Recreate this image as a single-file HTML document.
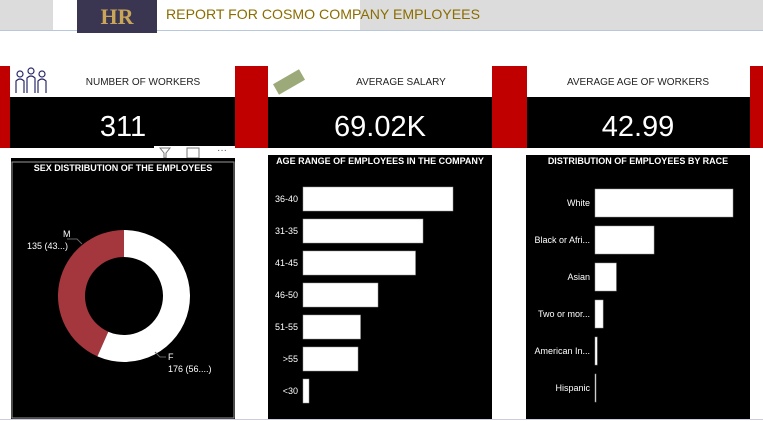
<!DOCTYPE html>
<html><head><meta charset="utf-8"><style>
body{margin:0;width:763px;height:421px;overflow:hidden;background:#fff;font-family:"Liberation Sans",sans-serif}
svg{display:block}
</style></head><body>
<svg width="763" height="421" viewBox="0 0 763 421">
<rect x="0" y="0" width="763" height="30" fill="#dcdcdc"/>
<rect x="53" y="0" width="307" height="30" fill="#fff"/>
<line x1="0" y1="30.5" x2="763" y2="30.5" stroke="#b8c8dc"/>
<g>
<rect x="77" y="0" width="80" height="33" fill="#3a3550"/>
<text x="117" y="24" text-anchor="middle" font-family="Liberation Serif" font-size="22" font-weight="bold" fill="#c9a55a">HR</text>
</g>
<text x="166" y="19" font-size="14" textLength="314" lengthAdjust="spacingAndGlyphs" fill="#8a6d00">REPORT FOR COSMO COMPANY EMPLOYEES</text>

<g>
<rect x="0" y="66" width="763" height="82" fill="#c00000"/>
<rect x="10" y="66" width="225" height="82" fill="#000"/>
<rect x="268" y="66" width="224" height="82" fill="#000"/>
<rect x="527" y="66" width="223" height="82" fill="#000"/>
<rect x="10" y="66" width="42" height="31" fill="#fff"/>
<g stroke="#2a2a6a" fill="none" stroke-width="1.2"><circle cx="20" cy="74" r="3"/><circle cx="31" cy="71" r="3"/><circle cx="42" cy="74" r="3"/><path d="M16 93v-12q4-4 8 0v12M27 93v-15q4-4 8 0v15M38 93v-12q4-4 8 0v12"/></g>
<rect x="52" y="66" width="183" height="31" fill="#fff"/>
<text x="143" y="85" text-anchor="middle" font-size="10" fill="#222">NUMBER OF WORKERS</text>
<rect x="268" y="66" width="42" height="31" fill="#fff"/>
<rect x="274" y="76" width="30" height="12" fill="#9caa7a" transform="rotate(-30 289 82)"/>
<rect x="310" y="66" width="182" height="31" fill="#fff"/>
<text x="401" y="85" text-anchor="middle" font-size="10" fill="#222">AVERAGE SALARY</text>
<rect x="527" y="66" width="223" height="31" fill="#fff"/>
<text x="638" y="85" text-anchor="middle" font-size="10" fill="#222">AVERAGE AGE OF WORKERS</text>
<text x="123" y="136" text-anchor="middle" font-size="29" fill="#fff">311</text>
<text x="380" y="136" text-anchor="middle" font-size="29" fill="#fff">69.02K</text>
<text x="638" y="136" text-anchor="middle" font-size="29" fill="#fff">42.99</text>
</g>

<g>
<rect x="154" y="146" width="81" height="14" fill="#fff"/>
<path d="M160 148h10l-4 5v5h-2v-5z" fill="none" stroke="#777"/>
<rect x="187" y="148" width="12" height="10" fill="none" stroke="#777"/>
<text x="222" y="153" text-anchor="middle" font-size="10" fill="#555">···</text>
</g>

<g>
<rect x="11" y="158" width="224" height="261" fill="#000"/>
<rect x="12" y="162" width="222" height="256" fill="none" stroke="#999"/>
<text x="123" y="171" text-anchor="middle" font-size="9" font-weight="bold" fill="#fff">SEX DISTRIBUTION OF THE EMPLOYEES</text>
<g id="donut"></g>
<text x="63" y="237" font-size="9" fill="#fff">M</text>
<text x="27" y="249" font-size="9" fill="#fff">135 (43...)</text>
<path d="M67 239h10l5 5" stroke="#666" fill="none"/>
<text x="168" y="360" font-size="9" fill="#fff">F</text>
<text x="168" y="372" font-size="9" fill="#fff">176 (56....)</text>
<path d="M155 352l5 5h6" stroke="#666" fill="none"/>
</g>

<g>
<rect x="268" y="155" width="224" height="264" fill="#000"/>
<text x="380" y="164" text-anchor="middle" font-size="9" font-weight="bold" fill="#fff">AGE RANGE OF EMPLOYEES IN THE COMPANY</text>
<g id="ageBars"></g>
</g>
<g>
<rect x="526" y="155" width="224" height="264" fill="#000"/>
<text x="638" y="164" text-anchor="middle" font-size="9" font-weight="bold" fill="#fff">DISTRIBUTION OF EMPLOYEES BY RACE</text>
<g id="raceBars"></g>
</g>
<line x1="0" y1="419.5" x2="763" y2="419.5" stroke="#ccd"/>
</svg>
<script>
const sexLabels=["M","F"];
const sexValues=[135,176];
const ageCats=["36-40","31-35","41-45","46-50","51-55",">55","<30"];
const ageValues=[60,48,45,30,23,22,2.4];
const raceCats=["White","Black or Afri...","Asian","Two or mor...","American In...","Hispanic"];
const raceValues=[187,80,29,11,3,1];
const NS="http://www.w3.org/2000/svg";
function mk(t,a,p){const e=document.createElementNS(NS,t);for(const k in a)e.setAttribute(k,a[k]);p.appendChild(e);return e;}
(function(){
const g=document.getElementById('donut');const cx=124,cy=296,R=66,r=39;
const tot=sexValues.reduce((a,b)=>a+b,0);const cols=["#a3373d","#ffffff"];
let ang=0;
sexValues.forEach((v,i)=>{
 const a0=ang,a1=ang-v/tot*2*Math.PI;ang=a1;
 const p=(a,rad)=>[cx+rad*Math.sin(a),cy-rad*Math.cos(a)];
 const large=Math.abs(a1-a0)>Math.PI?1:0;
 const [x0,y0]=p(a0,R),[x1,y1]=p(a1,R),[x2,y2]=p(a1,r),[x3,y3]=p(a0,r);
 const e=mk('path',{d:`M${x0} ${y0}A${R} ${R} 0 ${large} 0 ${x1} ${y1}L${x2} ${y2}A${r} ${r} 0 ${large} 1 ${x3} ${y3}Z`,fill:cols[i]},g);
 
 
});
})();
function bars(id,cats,vals,x0,maxW,maxV,y0,pitch,h,labX){
 const g=document.getElementById(id);
 const xs=v=>v/maxV*maxW;
 cats.forEach((c,i)=>{
  const y=y0+i*pitch;
  const b=mk('rect',{x:x0,y:y,width:Math.max(1,xs(vals[i])),height:h,fill:'#fff',stroke:'#999','stroke-width':0.5},g);
  
  
  const t=mk('text',{x:labX,y:y+h/2+3,'text-anchor':'end','font-size':9,fill:'#fff'},g);
  t.textContent=c;
  
  
 });
}
bars('ageBars',ageCats,ageValues,303,150,60,187,32,24,298);
bars('raceBars',raceCats,raceValues,595,138,187,189,37,28,590);
</script>
</body></html>
